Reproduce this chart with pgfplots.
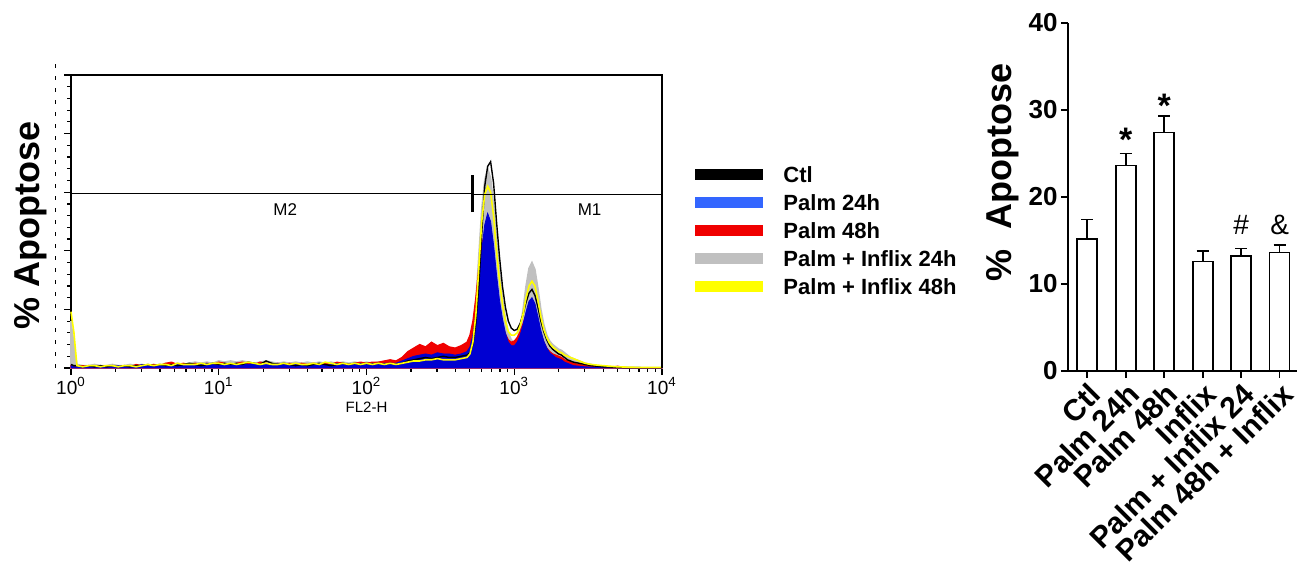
\documentclass[border=0pt]{standalone}
\usepackage{pgfplots}
\pgfplotsset{compat=1.18}
\usepackage{pgfplotstable}
\usepackage{fontspec}
\setmainfont{Liberation Sans}
\definecolor{hgrey}{RGB}{192,192,192}
\definecolor{hred}{RGB}{240,0,0}
\definecolor{hblue}{RGB}{0,0,210}
\definecolor{lblue}{RGB}{51,102,255}
\definecolor{hyellow}{RGB}{255,255,0}

% FL2-H histogram (x = log10 of FL2-H)
\pgfplotstableread{
L ctl p24 p48 pi24 pi48
0.00 3 2 2 40 48
0.02 2 1 1 20 30
0.04 2 1 1 3 2
0.08 1 1 2 2 1
0.12 2 1 1 2 2
0.16 1 2 1 3 2
0.20 2 1 2 2 1
0.24 1 2 1 2 2
0.28 2 1 2 3 2
0.32 1 2 1 2 1
0.36 2 1 2 2 2
0.40 1 2 1 3 2
0.44 2 1 3 2 1
0.48 2 3 2 3 2
0.52 3 2 2 2 3
0.56 2 1 3 3 2
0.60 3 2 2 2 3
0.64 2 3 4 4 3
0.68 3 2 5 3 2
0.72 2 3 3 4 4
0.76 3 2 4 3 3
0.80 4 3 3 4 3
0.84 3 2 4 5 3
0.88 2 3 3 4 4
0.92 3 4 4 5 3
0.96 4 3 3 4 4
1.00 3 2 5 6 4
1.04 4 3 4 5 3
1.08 3 4 3 6 4
1.12 4 3 4 5 3
1.16 3 4 5 6 4
1.20 5 3 4 5 5
1.24 4 4 3 4 4
1.28 3 3 5 5 3
1.32 6 4 4 6 4
1.36 4 3 3 5 3
1.40 3 4 4 4 3
1.44 4 3 3 5 4
1.48 3 2 4 4 3
1.52 2 3 3 5 4
1.56 3 2 4 4 3
1.60 2 3 3 5 3
1.64 3 2 4 4 4
1.68 4 3 3 5 3
1.72 3 2 4 4 5
1.76 2 3 3 5 4
1.80 3 4 5 4 3
1.84 4 3 4 5 4
1.88 3 2 3 4 3
1.92 4 3 4 5 4
1.96 3 4 5 4 3
2.00 4 3 4 5 4
2.04 3 4 5 4 3
2.08 4 3 5 5 4
2.12 3 4 6 4 3
2.16 4 4 7 5 4
2.20 3 4 6 4 3
2.24 4 6 9 5 4
2.28 6 8 14 7 5
2.32 7 10 17 8 6
2.36 8 11 20 9 6
2.40 9 12 18 10 7
2.44 8 11 22 9 7
2.48 9 13 19 11 8
2.52 10 12 21 10 7
2.56 9 12 18 11 7
2.60 9 11 17 10 7
2.64 10 12 19 10 8
2.68 11 14 22 12 9
2.70 13 18 28 16 12
2.72 20 28 40 30 22
2.74 38 45 60 55 45
2.76 70 72 85 95 85
2.78 115 100 105 135 125
2.80 155 122 115 160 148
2.82 172 132 112 170 155
2.84 176 125 98 162 150
2.86 158 105 80 140 130
2.88 125 80 62 110 100
2.90 95 58 48 82 75
2.92 70 42 37 60 55
2.94 52 30 29 42 40
2.96 40 22 24 30 31
2.98 34 19 22 24 28
3.00 32 19 23 22 28
3.02 33 22 26 25 30
3.04 38 28 31 34 36
3.06 46 37 38 50 46
3.08 56 48 46 70 60
3.10 64 57 52 85 70
3.12 67 60 53 90 74
3.14 62 55 48 84 70
3.16 52 44 38 68 58
3.18 40 32 29 50 44
3.20 31 23 22 37 33
3.22 24 17 17 28 26
3.24 19 13 14 23 21
3.26 16 11 12 20 18
3.28 14 9 11 18 16
3.30 12 8 10 16 14
3.32 11 7 9 15 13
3.34 9 5 7 13 11
3.36 7 4 6 11 10
3.38 6 3 5 9 9
3.40 5 2 4 8 8
3.44 4 1.5 3 6 6
3.48 3 1 2 4 4
3.52 2 0.8 1.5 3 3
3.56 1.5 0.5 1 2 2.5
3.60 1 0.4 0.8 1.5 2
3.65 0.8 0.3 0.5 1 1.5
3.70 0.5 0.2 1.5 0.6 1
3.75 0.3 0.2 0.3 0.4 0.8
3.80 0.3 0.2 0.3 0.3 0.6
3.90 0.2 0.1 0.2 0.3 0.5
4.00 0.2 0.1 0.2 0.3 0.5
}\histo

% % apoptosis bar chart
\pgfplotstableread{
x y e
0 15.2 2.2
1 23.6 1.4
2 27.4 1.9
3 12.6 1.2
4 13.2 0.9
5 13.6 0.85
}\bars

\pgfplotsset{
  legendbar/.style={legend image code/.code={\fill[draw=none, fill=#1] (0pt,-1.6pt) rectangle (34pt,3.9pt); \path[draw=none, fill=none] (0pt,0pt) -- (44pt,0pt);}},
}

\begin{document}
\begin{tikzpicture}
\useasboundingbox (0,0) rectangle (648.5pt,282.5pt);

% ---------------- histogram ----------------
\begin{axis}[
  at={(35.5pt,98.5pt)}, anchor=south west,
  scale only axis, width=295.5pt, height=146.5pt,
  xmin=0, xmax=4, ymin=0, ymax=250,
  axis line style={line width=0.6pt},
  xtick={0,1,2,3,4},
  xticklabels={10\textsuperscript{0},10\textsuperscript{1},10\textsuperscript{2},10\textsuperscript{3},10\textsuperscript{4}},
  minor xtick={0.301,0.477,0.602,0.699,0.778,0.845,0.903,0.954,
               1.301,1.477,1.602,1.699,1.778,1.845,1.903,1.954,
               2.301,2.477,2.602,2.699,2.778,2.845,2.903,2.954,
               3.301,3.477,3.602,3.699,3.778,3.845,3.903,3.954},
  ytick={0,50,100,150,200,250}, yticklabels={},
  minor ytick={10,20,30,40,60,70,80,90,110,120,130,140,160,170,180,190,210,220,230,240},
  tick align=outside, tick pos=left,
  major tick length=3.5pt, minor tick length=2pt,
  every tick/.style={black, line width=0.6pt},
  xticklabel style={font=\fontsize{9.5}{10}\selectfont, inner sep=1pt},
  xlabel={FL2-H},
  xlabel style={font=\fontsize{7.5}{8}\selectfont, at={(axis description cs:0.5,-0.115)}, anchor=north, inner sep=0pt},
  ylabel={\% Apoptose},
  ylabel style={font=\bfseries\fontsize{18}{20}\selectfont, at={(axis description cs:-0.068,0.485)}, anchor=center, rotate=0},
  legend style={draw=none, fill=none, at={(axis description cs:1.056,0.692)}, anchor=north west,
    font=\bfseries\fontsize{11}{12}\selectfont, row sep=3.2pt, inner sep=0pt,
    nodes={inner sep=0pt, text height=8.2pt, text depth=2.6pt}},
  legend cell align=left,
  clip=false,
]
\addlegendimage{legendbar=black}\addlegendentry{Ctl}
\addlegendimage{legendbar=lblue}\addlegendentry{Palm 24h}
\addlegendimage{legendbar=hred}\addlegendentry{Palm 48h}
\addlegendimage{legendbar=hgrey}\addlegendentry{Palm + Inflix 24h}
\addlegendimage{legendbar=hyellow}\addlegendentry{Palm + Inflix 48h}

\addplot[fill=hgrey, draw=hgrey, line width=0.8pt] table[x=L, y=pi24] {\histo} \closedcycle;
\addplot[fill=hred, draw=hred, line width=0.6pt] table[x=L, y=p48] {\histo} \closedcycle;
\addplot[fill=hblue, draw=hblue, line width=0.4pt] table[x=L, y=p24] {\histo} \closedcycle;
\addplot[black, line width=0.7pt] table[x=L, y=ctl] {\histo};
\addplot[hyellow, line width=0.8pt] table[x=L, y=pi48] {\histo};

% gates M2 / M1
\addplot[black, line width=0.8pt] coordinates {(0,149) (2.72,149)};
\addplot[black, line width=0.8pt] coordinates {(2.72,148) (4,148)};
\addplot[black, line width=0.7pt] coordinates {(0,136) (0,161)};
\addplot[black, line width=1.4pt] coordinates {(2.72,133) (2.72,165)};
\node[font=\fontsize{8.5}{9}\selectfont] at (axis cs:1.45,135) {M2};
\node[font=\fontsize{8.5}{9}\selectfont] at (axis cs:3.51,135) {M1};
% frame top and right thicker
\draw[line width=1pt] (rel axis cs:0,1) -- (rel axis cs:1,1) -- (rel axis cs:1,0);
\draw[dash pattern=on 2pt off 4pt, line width=0.5pt] (rel axis cs:-0.026,0) -- (rel axis cs:-0.026,1.04);
\end{axis}

% ---------------- bar chart ----------------
\begin{axis}[
  at={(534pt,97pt)}, anchor=south west,
  scale only axis, width=114.5pt, height=174pt,
  xmin=-0.5, xmax=5.45, ymin=0, ymax=40,
  axis x line*=bottom, axis y line*=left,
  axis line style={line width=0.8pt},
  every tick/.style={black, line width=0.8pt},
  tick align=outside, major tick length=3.5pt,
  xtick={0,1,2,3,4,5},
  xticklabels={Ctl, Palm 24h, Palm 48h, Inflix, Palm + Inflix 24, Palm 48h + Inflix},
  xticklabel style={font=\bfseries\fontsize{15}{16}\selectfont, rotate=45, anchor=north east, inner sep=1pt},
  ytick={0,10,20,30,40},
  yticklabel style={font=\bfseries\fontsize{13}{14}\selectfont, inner sep=1.5pt},
  /pgf/number format/assume math mode=true,
  ylabel={\%~~Apoptose},
  ylabel style={font=\bfseries\fontsize{18}{20}\selectfont, at={(axis description cs:-0.284,0.57)}, anchor=center},
  clip=false,
]
\addplot[ybar, bar width=10pt, fill=white, draw=black, line width=0.8pt,
  error bars/.cd, y dir=plus, y explicit,
  error bar style={line width=0.8pt},
  error mark options={rotate=90, mark size=3pt, line width=0.8pt}]
  table[x=x, y=y, y error=e] {\bars};
\node[font=\bfseries\fontsize{17}{18}\selectfont] at (axis cs:1,26.6) {*};
\node[font=\bfseries\fontsize{17}{18}\selectfont] at (axis cs:2,30.5) {*};
\node[font=\fontsize{14}{15}\selectfont] at (axis cs:4,16.8) {\#};
\node[font=\fontsize{14}{15}\selectfont] at (axis cs:5,16.8) {\&};
\end{axis}
\end{tikzpicture}
\end{document}
